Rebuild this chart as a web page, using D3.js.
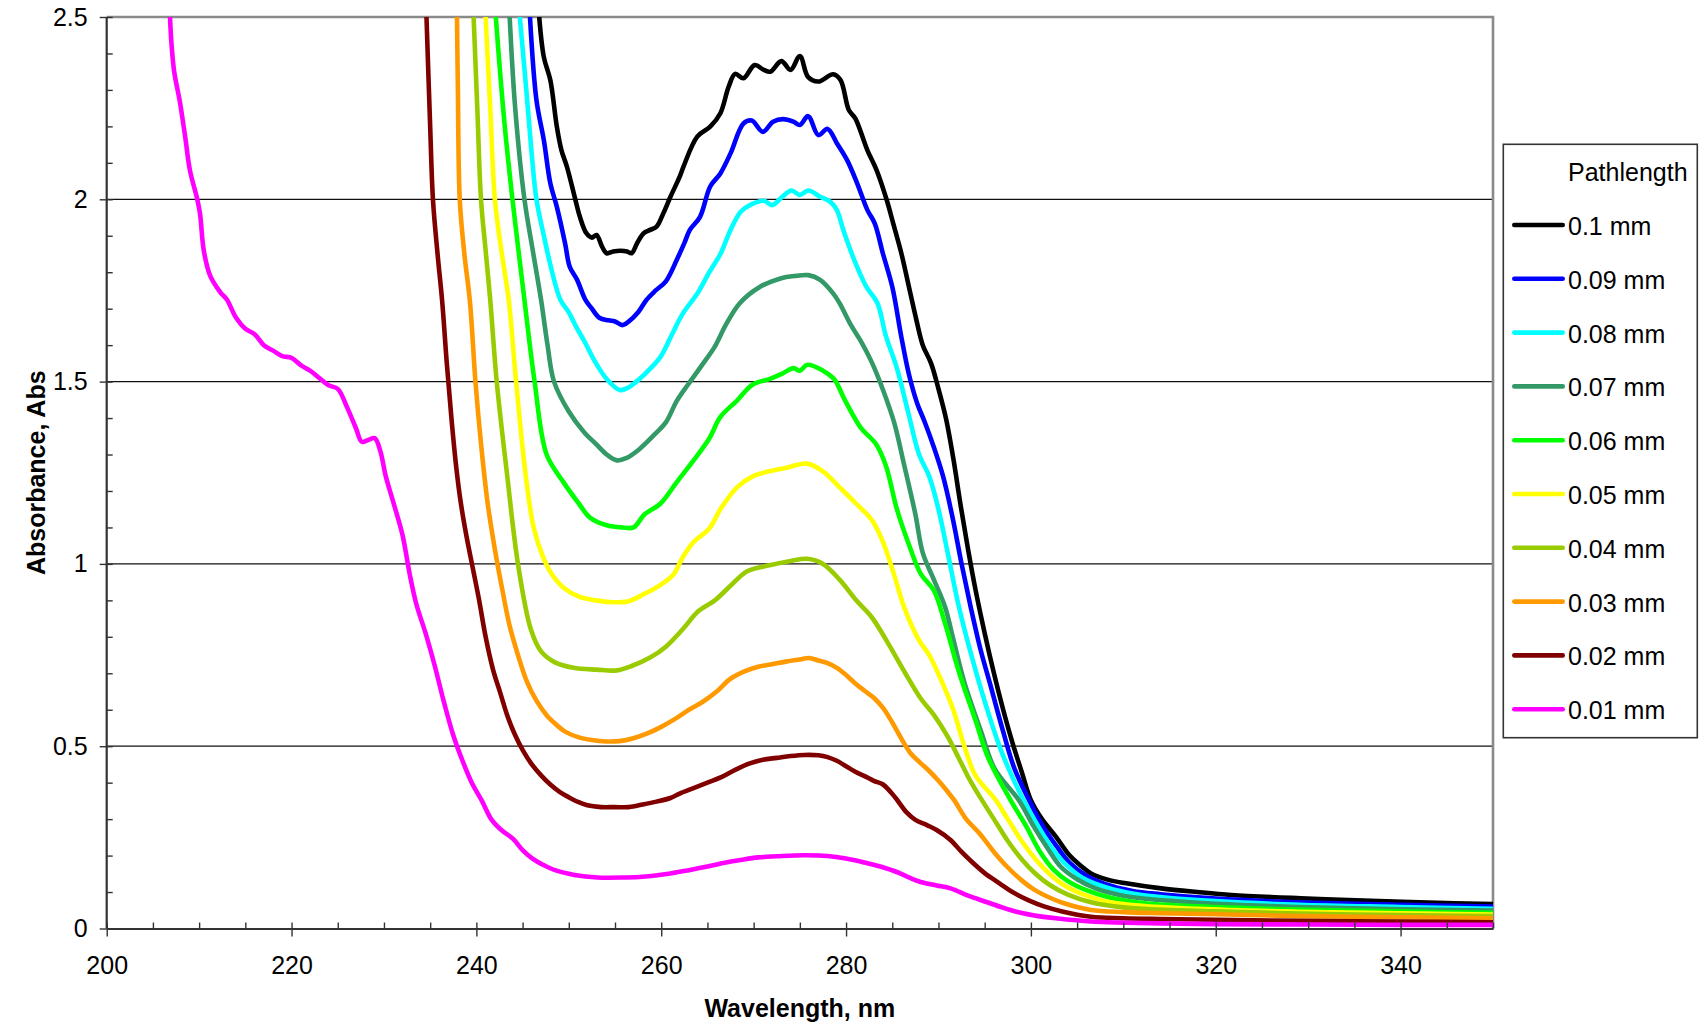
<!DOCTYPE html>
<html><head><meta charset="utf-8">
<script src="https://cdn.jsdelivr.net/npm/d3@7/dist/d3.min.js"></script>
<style>
body{margin:0;background:#fff;}
svg{display:block;}
text{font-family:"Liberation Sans",Arial,sans-serif;fill:#000;}
</style>
</head><body>
<svg id="chart" width="1699" height="1026"></svg>
<script>
// ---------- data ----------
const xTickValues = [200,220,240,260,280,300,320,340];
const yTickValues = [0,0.5,1,1.5,2,2.5];
const yTickLabels = ["0","0.5","1","1.5","2","2.5"];
const seriesNames = ["0.1 mm","0.09 mm","0.08 mm","0.07 mm","0.06 mm","0.05 mm","0.04 mm","0.03 mm","0.02 mm","0.01 mm"];
const seriesColors = ["#000000","#0000FF","#00FFFF","#339966","#00FF00","#FFFF00","#99CC00","#FF9900","#800000","#FF00FF"];

const p010 = [[246.8,2.5],[247.3,2.39],[248.0,2.327],[248.7,2.2],[249.2,2.135],[249.8,2.089],[250.7,2.0],[251.2,1.952],[251.9,1.907],[252.5,1.895],[253.0,1.902],[253.6,1.87],[254.1,1.852],[254.8,1.857],[255.6,1.859],[256.3,1.857],[256.8,1.852],[257.4,1.88],[258.1,1.907],[258.8,1.916],[259.5,1.925],[260.2,1.96],[261.0,2.007],[262.0,2.062],[262.4,2.089],[263.9,2.172],[265.3,2.199],[266.4,2.236],[267.3,2.309],[268.0,2.344],[268.9,2.332],[270.1,2.368],[271.1,2.355],[271.8,2.35],[273.0,2.379],[274.0,2.355],[275.0,2.393],[275.9,2.335],[277.0,2.323],[278.6,2.343],[279.4,2.327],[280.3,2.245],[281.0,2.222],[282.3,2.135],[283.3,2.08],[284.4,1.998],[285.1,1.934],[286.0,1.85],[286.8,1.76],[287.6,1.67],[288.3,1.6],[289.2,1.55],[290.0,1.48],[290.8,1.4],[291.6,1.29],[292.4,1.16],[293.2,1.04],[294.0,0.93],[295.0,0.81],[296.0,0.7],[297.0,0.6],[298.0,0.51],[299.0,0.43],[300.0,0.352],[301.2,0.3],[302.7,0.252],[304.2,0.2],[305.5,0.17],[306.5,0.151],[308.3,0.134],[310.3,0.124],[314.1,0.11],[318,0.1],[321.7,0.092],[329.2,0.083],[336.8,0.076],[343,0.071],[350,0.067]];
const p009 = [[245.8,2.5],[246.5,2.272],[247.3,2.162],[248.0,2.044],[248.7,1.98],[249.6,1.879],[250.1,1.815],[250.9,1.779],[251.8,1.724],[252.5,1.7],[253.3,1.675],[254.3,1.668],[255.0,1.665],[255.8,1.655],[256.5,1.665],[257.5,1.69],[258.4,1.724],[259.4,1.75],[260.5,1.775],[261.7,1.835],[262.5,1.88],[263.1,1.916],[264.2,1.952],[265.3,2.035],[266.4,2.071],[267.5,2.126],[268.9,2.208],[269.8,2.216],[271.0,2.185],[272.1,2.213],[273.2,2.22],[274.3,2.213],[275.0,2.204],[275.9,2.228],[277.0,2.176],[278.0,2.193],[279.0,2.154],[280.1,2.108],[281.2,2.044],[282.3,1.971],[283.1,1.934],[284.0,1.85],[285.0,1.76],[286.0,1.62],[286.8,1.52],[287.7,1.44],[288.5,1.39],[289.5,1.32],[290.5,1.24],[291.5,1.13],[292.5,1.0],[293.5,0.88],[294.5,0.77],[295.7,0.66],[297.0,0.54],[298.2,0.44],[299.8,0.352],[301.3,0.28],[302.8,0.225],[304.2,0.18],[306,0.145],[308,0.122],[311,0.103],[314,0.094],[320,0.082],[329,0.072],[340,0.065],[350,0.06]];
const p008 = [[244.7,2.5],[245.4,2.3],[246.0,2.12],[246.5,2.0],[247.3,1.9],[248.2,1.8],[249.1,1.724],[250.0,1.69],[250.8,1.65],[251.7,1.61],[252.9,1.552],[254.1,1.507],[255.5,1.477],[256.4,1.483],[257.3,1.5],[258.2,1.52],[259.9,1.567],[261.1,1.626],[262.3,1.685],[264.0,1.745],[265.2,1.8],[266.4,1.85],[267.5,1.916],[268.6,1.966],[269.6,1.984],[271.1,1.996],[272.0,1.984],[273.1,2.007],[274.1,2.024],[275.0,2.012],[275.9,2.024],[277.2,2.007],[278.3,1.993],[279.0,1.971],[279.7,1.916],[281.1,1.82],[282.2,1.76],[283.4,1.715],[284.3,1.626],[285.5,1.537],[286.7,1.418],[287.9,1.3],[289.0,1.24],[290.0,1.15],[291.0,1.03],[292.2,0.883],[293.4,0.764],[295.1,0.615],[296.9,0.48],[299.2,0.352],[300.8,0.28],[302.3,0.22],[303.8,0.175],[305.5,0.14],[307.5,0.118],[310.5,0.098],[314,0.086],[320,0.075],[329,0.065],[340,0.059],[350,0.054]];
const p007 = [[243.6,2.5],[244.2,2.25],[245.2,2.0],[246.1,1.86],[247.0,1.724],[247.7,1.6],[248.4,1.5],[250.0,1.418],[251.7,1.36],[252.9,1.33],[254.1,1.3],[255.2,1.284],[256.2,1.29],[257.6,1.314],[259.4,1.358],[260.5,1.388],[261.7,1.448],[262.9,1.492],[264.6,1.552],[265.8,1.596],[267.0,1.656],[268.5,1.715],[270.7,1.76],[272.9,1.783],[274.6,1.79],[275.9,1.792],[277.2,1.779],[278.6,1.742],[279.3,1.715],[280.5,1.656],[281.6,1.611],[282.8,1.552],[284.0,1.477],[285.2,1.388],[286.3,1.27],[287.5,1.136],[288.3,1.03],[289.5,0.957],[290.7,0.883],[291.6,0.794],[292.8,0.675],[294.6,0.541],[296.1,0.437],[298.7,0.352],[300.3,0.28],[301.8,0.22],[303.2,0.17],[305,0.135],[307,0.11],[310,0.09],[314,0.078],[320,0.068],[329,0.059],[340,0.053],[350,0.049]];
const p006 = [[242.1,2.5],[243.0,2.22],[243.9,2.0],[244.6,1.85],[245.2,1.724],[246.3,1.5],[247.6,1.3],[249.4,1.225],[251.1,1.165],[252.3,1.127],[254.1,1.106],[255.8,1.1],[257.0,1.1],[258.2,1.136],[259.9,1.165],[261.7,1.225],[263.5,1.284],[265.2,1.344],[266.4,1.403],[268.2,1.448],[269.9,1.492],[271.7,1.507],[273.1,1.522],[274.3,1.537],[275.0,1.53],[275.8,1.546],[277.5,1.53],[278.7,1.507],[279.9,1.448],[281.6,1.373],[283.2,1.33],[284.3,1.27],[285.5,1.15],[286.9,1.046],[288.1,0.972],[289.5,0.927],[290.7,0.838],[292.2,0.705],[294.0,0.571],[295.4,0.467],[297.8,0.352],[299.5,0.28],[301,0.21],[302.5,0.16],[304,0.13],[306,0.105],[308.5,0.085],[312,0.07],[318,0.061],[329,0.052],[340,0.047],[350,0.043]];
const p005 = [[241.0,2.5],[241.5,2.25],[242.0,2.0],[242.7,1.86],[243.5,1.724],[244.3,1.5],[245.3,1.25],[246.2,1.1],[247.2,1.02],[248.2,0.97],[249.4,0.935],[251.1,0.91],[252.9,0.9],[254.7,0.895],[256.4,0.897],[258.2,0.918],[259.9,0.942],[261.3,0.97],[262.3,1.017],[263.5,1.06],[265.2,1.097],[266.4,1.15],[268.2,1.21],[269.9,1.24],[271.7,1.254],[273.4,1.263],[275.8,1.275],[277.5,1.254],[279.3,1.21],[281.1,1.165],[282.8,1.12],[284.0,1.06],[285.2,0.97],[286.3,0.88],[287.9,0.79],[289.0,0.75],[290.4,0.675],[291.6,0.6],[292.8,0.5],[294.0,0.42],[296.2,0.352],[297.5,0.3],[299,0.24],[300.5,0.19],[302,0.15],[303.5,0.12],[305.5,0.095],[308,0.075],[312,0.062],[318,0.054],[329,0.046],[340,0.042],[350,0.038]];
const p004 = [[239.7,2.5],[240.1,2.25],[240.5,2.0],[241.0,1.86],[241.5,1.724],[242.2,1.5],[243.3,1.25],[244.5,1.0],[245.9,0.82],[247.0,0.76],[248.5,0.73],[250.5,0.715],[253.0,0.71],[255.2,0.708],[256.8,0.72],[258.8,0.743],[260.5,0.773],[262.3,0.82],[264.0,0.87],[265.8,0.9],[267.5,0.94],[269.3,0.98],[271.7,0.996],[274.0,1.008],[275.8,1.014],[277.5,1.0],[279.3,0.957],[281.1,0.9],[282.8,0.853],[284.6,0.78],[286.3,0.705],[288.1,0.63],[289.5,0.586],[291.0,0.526],[292.2,0.467],[293.4,0.407],[294.7,0.352],[296,0.3],[297.5,0.24],[299,0.19],[300.5,0.15],[302,0.12],[304,0.093],[306.5,0.072],[310,0.058],[314,0.052],[320,0.047],[329,0.041],[340,0.037],[350,0.034]];
const p003 = [[237.9,2.5],[238.0,2.3],[238.2,2.0],[238.7,1.85],[239.3,1.72],[239.9,1.5],[240.5,1.33],[241.2,1.17],[242.0,1.04],[242.8,0.93],[243.6,0.83],[244.5,0.75],[245.5,0.675],[246.5,0.625],[247.6,0.585],[248.6,0.56],[249.6,0.54],[251.0,0.525],[252.5,0.517],[254.0,0.513],[255.5,0.514],[257.0,0.522],[258.5,0.535],[260.0,0.553],[261.5,0.575],[263.0,0.6],[264.5,0.622],[266.0,0.65],[267.5,0.685],[269.0,0.705],[270.5,0.718],[272.0,0.725],[273.5,0.732],[275.0,0.738],[276.0,0.742],[277.0,0.735],[278.0,0.728],[279.0,0.715],[280.0,0.695],[281.0,0.672],[282.0,0.652],[283.0,0.633],[284.0,0.605],[285.0,0.565],[286.0,0.52],[287.0,0.48],[288.0,0.455],[289.0,0.432],[290.0,0.405],[291.0,0.375],[291.7,0.352],[293.0,0.3],[294.4,0.262],[296.0,0.21],[297.4,0.17],[299.0,0.132],[300.4,0.106],[302.0,0.085],[303.5,0.07],[306.5,0.051],[310,0.045],[314,0.042],[320,0.039],[329,0.034],[340,0.031],[350,0.028]];
const p002 = [[234.6,2.5],[235.0,2.2],[235.3,2.0],[235.8,1.85],[236.3,1.72],[236.8,1.55],[237.3,1.4],[237.8,1.27],[238.3,1.17],[238.9,1.08],[239.6,0.99],[240.3,0.9],[241.0,0.8],[241.8,0.71],[242.6,0.645],[243.4,0.58],[244.2,0.53],[245.0,0.49],[246.0,0.45],[247.0,0.42],[248.0,0.395],[249.0,0.375],[250.0,0.36],[251.0,0.347],[252.0,0.338],[253.5,0.333],[255.0,0.333],[256.5,0.333],[258.0,0.34],[259.5,0.348],[261.0,0.358],[262.0,0.37],[263.5,0.385],[265.0,0.4],[266.5,0.415],[268.0,0.435],[269.5,0.452],[271.0,0.463],[272.5,0.468],[274.0,0.473],[275.5,0.476],[277.0,0.475],[278.0,0.47],[279.0,0.46],[280.0,0.445],[281.0,0.43],[282.0,0.418],[283.0,0.405],[284.0,0.395],[285.3,0.36],[286.5,0.32],[287.5,0.298],[288.8,0.283],[289.8,0.27],[291.3,0.243],[292.5,0.21],[293.6,0.183],[295.0,0.152],[296.6,0.124],[298.0,0.1],[299.7,0.078],[301.5,0.06],[303.5,0.046],[306.5,0.032],[310,0.028],[314,0.026],[320,0.024],[329,0.021],[340,0.019],[350,0.017]];
const p001 = [[206.85,2.5],[207.0,2.43],[207.3,2.35],[207.9,2.27],[208.5,2.17],[209.0,2.08],[209.8,2.0],[210.1,1.96],[210.5,1.86],[211.2,1.79],[212.3,1.745],[213.0,1.725],[214.0,1.675],[215.0,1.645],[216.0,1.63],[217.0,1.6],[218.0,1.585],[219.0,1.57],[220.0,1.565],[221.0,1.545],[222.0,1.53],[223.0,1.51],[224.0,1.49],[225.0,1.48],[226.0,1.43],[227.0,1.37],[227.6,1.335],[228.3,1.34],[229.0,1.345],[229.6,1.31],[230.2,1.24],[231.0,1.17],[232.0,1.08],[232.8,0.97],[233.5,0.89],[234.5,0.81],[235.5,0.72],[236.5,0.62],[237.5,0.53],[238.5,0.46],[239.5,0.4],[240.6,0.35],[241.6,0.3],[242.7,0.27],[244.0,0.245],[245.0,0.215],[246.0,0.193],[247.2,0.175],[248.5,0.16],[250.6,0.147],[253.1,0.14],[256.0,0.14],[258.0,0.142],[261.0,0.151],[263.0,0.16],[265.0,0.17],[267.0,0.181],[268.6,0.188],[270.5,0.195],[272.5,0.198],[275.4,0.201],[278.0,0.199],[280.0,0.192],[282.0,0.181],[283.7,0.17],[285.5,0.155],[287.0,0.138],[288.3,0.126],[289.8,0.118],[291.3,0.11],[293.2,0.09],[295.1,0.0735],[297.0,0.057],[298.9,0.043],[300.8,0.034],[302.7,0.028],[306.5,0.019],[310,0.016],[314.1,0.014],[320,0.012],[330,0.011],[340,0.01],[350,0.01]];
const seriesPoints = [p010,p009,p008,p007,p006,p005,p004,p003,p002,p001];

// ---------- layout ----------
const svg = d3.select("#chart");
const L = 106.7, R = 1493, T = 17, B = 928.5;
const x = d3.scaleLinear().domain([200,350]).range([L,R]);
const y = d3.scaleLinear().domain([0,2.5]).range([B,T]);

svg.append("defs").append("clipPath").attr("id","plotclip")
  .append("rect").attr("x",L).attr("y",T).attr("width",R-L).attr("height",B-T);

// gridlines
svg.append("g").selectAll("line").data(yTickValues.filter(v=>v>0 && v<2.5)).join("line")
  .attr("x1",L).attr("x2",R).attr("y1",d=>y(d)).attr("y2",d=>y(d))
  .attr("stroke","#111").attr("stroke-width",1.2);

// grey frame top/right
svg.append("path").attr("d",`M${L},${T}H${R}V${B}`).attr("fill","none")
  .attr("stroke","#8a8a8a").attr("stroke-width",2.6);

// series
const line = d3.line().x(d=>x(d[0])).y(d=>y(d[1])).curve(d3.curveCatmullRom.alpha(0.5));
svg.append("g").attr("clip-path","url(#plotclip)")
  .selectAll("path").data(seriesPoints).join("path")
  .attr("d",line).attr("fill","none")
  .attr("stroke",(d,i)=>seriesColors[i]).attr("stroke-width",4.6)
  .attr("stroke-linejoin","round").attr("stroke-linecap","round");

// axes
const axisColor = "#333";
const xMinor = d3.range(200,351,5);
const gxMinor = svg.append("g").attr("transform",`translate(0,${B})`)
  .call(d3.axisTop(x).tickValues(xMinor).tickSize(6).tickSizeOuter(0).tickFormat(""));
const gx = svg.append("g").attr("transform",`translate(0,${B})`)
  .call(d3.axisBottom(x).tickValues(xTickValues).tickSize(8).tickSizeOuter(0).tickPadding(20).tickFormat(d3.format("d")));
const yMinor = d3.range(0,26,1).map(v=>v/10);
const gyMinor = svg.append("g").attr("transform",`translate(${L},0)`)
  .call(d3.axisRight(y).tickValues(yMinor).tickSize(6).tickSizeOuter(0).tickFormat(""));
const gy = svg.append("g").attr("transform",`translate(${L},0)`)
  .call(d3.axisLeft(y).tickValues(yTickValues).tickSize(7).tickSizeOuter(0).tickPadding(12)
    .tickFormat((d,i)=>yTickLabels[i]));
[gx,gy,gxMinor,gyMinor].forEach(g=>{
  g.selectAll("line").attr("stroke",axisColor).attr("stroke-width",1.4);
  g.selectAll("text").attr("font-size",25).attr("font-family","Liberation Sans, Arial, sans-serif").attr("fill","#000");
});
gxMinor.select(".domain").remove();
gyMinor.select(".domain").remove();
gx.select(".domain").attr("stroke",axisColor).attr("stroke-width",2.2);
gy.select(".domain").attr("stroke",axisColor).attr("stroke-width",2.2);
gy.select(".domain").attr("d",`M0,${T}V${B}`);

// axis titles
svg.append("text").attr("x",(L+R)/2).attr("y",1017).attr("text-anchor","middle")
  .attr("font-size",25).attr("font-weight","bold").text("Wavelength, nm");
svg.append("text").attr("transform",`translate(45,${(T+B)/2}) rotate(-90)`).attr("text-anchor","middle")
  .attr("font-size",25).attr("font-weight","bold").text("Absorbance, Abs");

// legend
const lg = svg.append("g");
lg.append("rect").attr("x",1503.3).attr("y",144.3).attr("width",194).attr("height",593.4)
  .attr("fill","#fff").attr("stroke","#333").attr("stroke-width",1.6);
lg.append("text").attr("x",1568).attr("y",181).attr("font-size",25).text("Pathlength");
const items = lg.selectAll("g.item").data(seriesNames).join("g").attr("class","item")
  .attr("transform",(d,i)=>`translate(0,${225 + i*53.8})`);
items.append("line").attr("x1",1514.3).attr("x2",1562.7).attr("y1",0).attr("y2",0)
  .attr("stroke",(d,i)=>seriesColors[i]).attr("stroke-width",4.6).attr("stroke-linecap","round");
items.append("text").attr("x",1568).attr("y",10).attr("font-size",25).text(d=>d);
</script>
</body></html>
